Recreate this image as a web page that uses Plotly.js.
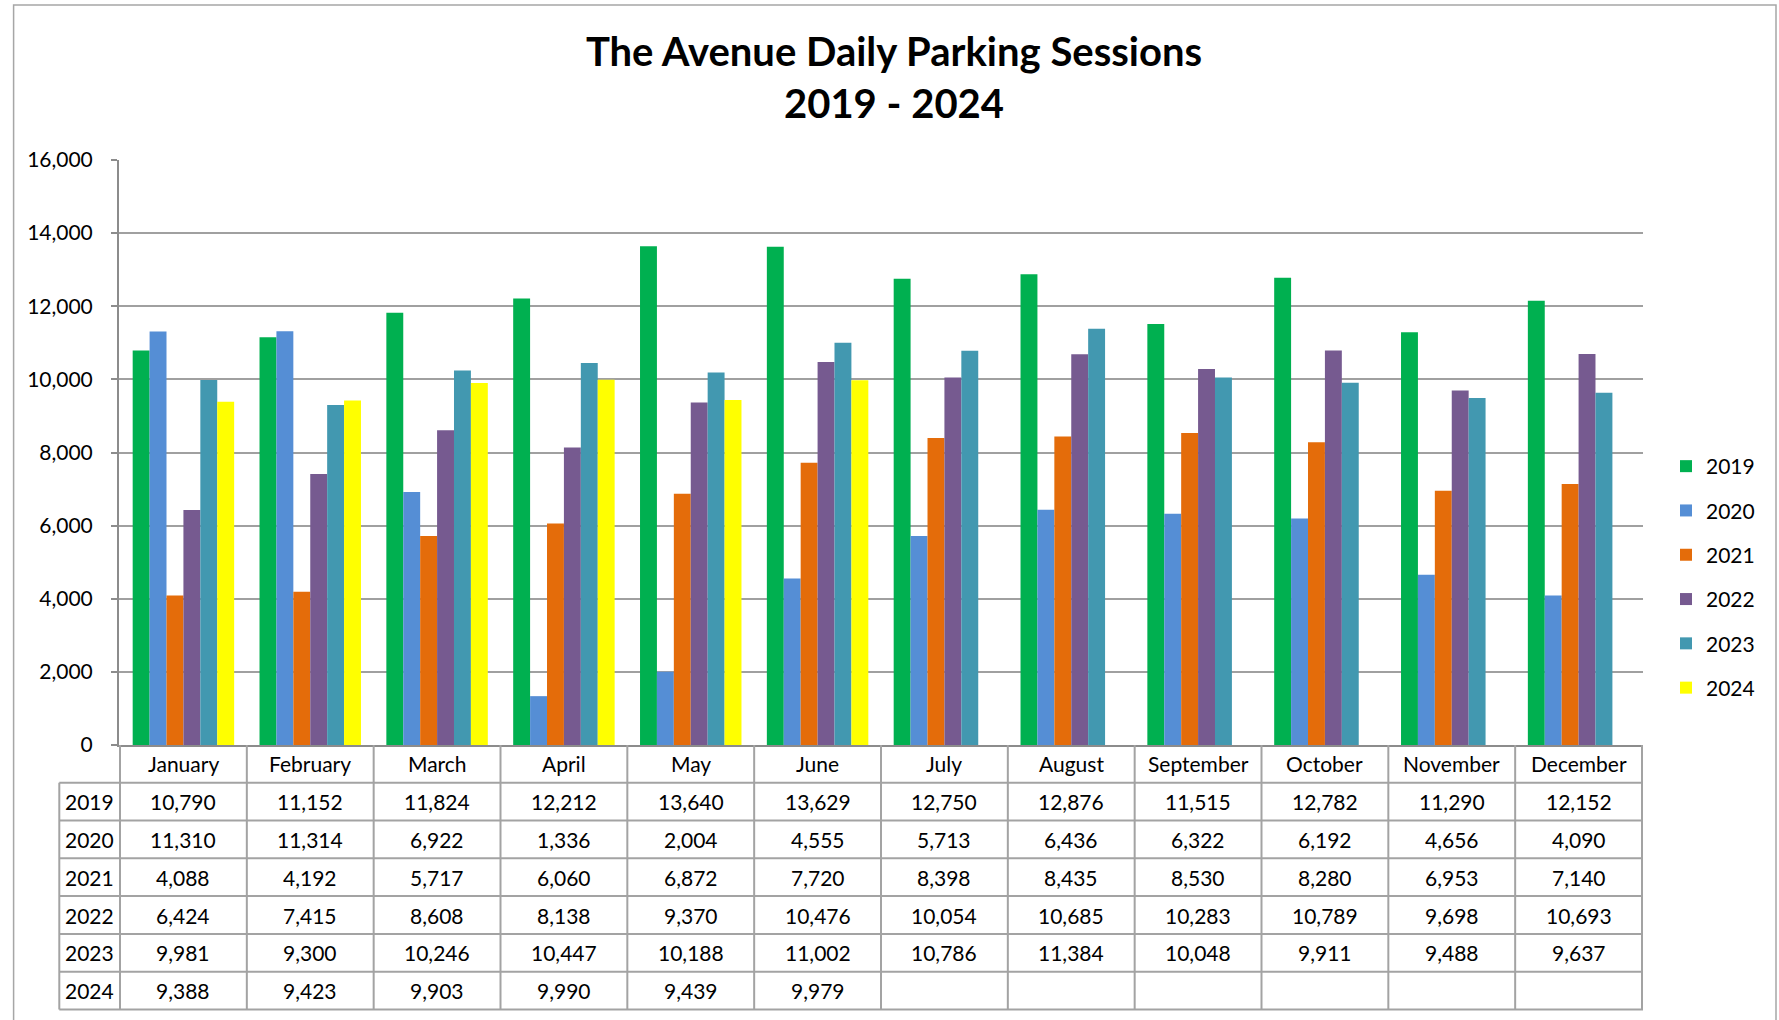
<!DOCTYPE html>
<html>
<head>
<meta charset="utf-8">
<script src="https://cdn.plot.ly/plotly-3.0.1.min.js"></script>
<style>
  html, body { margin: 0; padding: 0; background: #ffffff; }
  #chart { width: 1779px; height: 1020px; }
</style>
</head>
<body>
<div id="chart"></div>
<script>
// ---------------- data ----------------
const months = ["January", "February", "March", "April", "May", "June",
                "July", "August", "September", "October", "November", "December"];
const years = ["2019", "2020", "2021", "2022", "2023", "2024"];
const y2019 = [10790, 11152, 11824, 12212, 13640, 13629, 12750, 12876, 11515, 12782, 11290, 12152];
const y2020 = [11310, 11314, 6922, 1336, 2004, 4555, 5713, 6436, 6322, 6192, 4656, 4090];
const y2021 = [4088, 4192, 5717, 6060, 6872, 7720, 8398, 8435, 8530, 8280, 6953, 7140];
const y2022 = [6424, 7415, 8608, 8138, 9370, 10476, 10054, 10685, 10283, 10789, 9698, 10693];
const y2023 = [9981, 9300, 10246, 10447, 10188, 11002, 10786, 11384, 10048, 9911, 9488, 9637];
const y2024 = [9388, 9423, 9903, 9990, 9439, 9979, null, null, null, null, null, null];
const yTicks = [0, 2000, 4000, 6000, 8000, 10000, 12000, 14000, 16000];

const series = [y2019, y2020, y2021, y2022, y2023, y2024];
const colors = ["#00B050", "#558ED5", "#E46C0A", "#765A90", "#4298B0", "#FFFF00"];

// ---------------- layout geometry (pixels) ----------------
const W = 1779, H = 1020;
const PL = 119, PR = 1643, PT = 160, PB = 745;
const pw = PR - PL, ph = PB - PT;
const xp = px => (px - PL) / pw;          // pixel x -> paper
const yp = py => (PB - py) / ph;          // pixel y -> paper
const headerBottom = 782.7, rowH = 37.8, tableLeft = 59.3;
const gridGray = "#A0A0A0", lineGray = "#8C8C8C", tableGray = "#A3A3A3";
const FONT = "Lato, 'Open Sans', sans-serif";

// ---------------- traces ----------------
const traces = years.map((yr, i) => ({
  type: "bar",
  name: yr,
  x: months,
  y: series[i],
  marker: { color: colors[i], line: { width: 0 } },
  legendgroup: yr,
  hoverinfo: "x+y+name"
}));

// ---------------- table: shapes + annotations ----------------
const shapes = [];
const annotations = [];

// outer chart border
shapes.push({ type: "rect", xref: "paper", yref: "paper",
  x0: xp(13.6), x1: xp(1776), y0: yp(1040), y1: yp(5),
  line: { color: "#A6A6A6", width: 1.5 }, fillcolor: "rgba(0,0,0,0)", layer: "below" });

// horizontal table lines
for (let r = 0; r <= years.length; r++) {
  const y = headerBottom + r * rowH;
  shapes.push({ type: "line", xref: "paper", yref: "paper",
    x0: xp(tableLeft), x1: 1, y0: yp(y), y1: yp(y),
    line: { color: tableGray, width: 2 } });
}
// vertical lines at category boundaries
for (let c = 0; c <= months.length; c++) {
  shapes.push({ type: "line", xref: "x", yref: "paper",
    x0: c - 0.5, x1: c - 0.5, y0: yp(PB), y1: yp(headerBottom + years.length * rowH),
    line: { color: tableGray, width: 2 } });
}
// left edge of the row-label column
shapes.push({ type: "line", xref: "paper", yref: "paper",
  x0: xp(tableLeft), x1: xp(tableLeft), y0: yp(headerBottom), y1: yp(headerBottom + years.length * rowH),
  line: { color: tableGray, width: 2 } });

const cellFont = { family: FONT, size: 21, color: "#000000" };
// month header
months.forEach(m => {
  annotations.push({ xref: "x", yref: "paper", x: m, y: yp((PB + headerBottom) / 2),
    text: m, showarrow: false, font: cellFont, xanchor: "center", yanchor: "middle" });
});
// rows
years.forEach((yr, r) => {
  const yc = yp(headerBottom + r * rowH + rowH / 2);
  annotations.push({ xref: "paper", yref: "paper", x: xp((tableLeft + PL) / 2), y: yc,
    text: yr, showarrow: false, font: cellFont, xanchor: "center", yanchor: "middle" });
  months.forEach((m, c) => {
    const v = series[r][c];
    if (v === null || v === undefined) return;
    annotations.push({ xref: "x", yref: "paper", x: m, y: yc,
      text: v.toLocaleString("en-US"), showarrow: false, font: cellFont,
      xanchor: "center", yanchor: "middle" });
  });
});

// ---------------- layout ----------------
const layout = {
  width: W, height: H,
  paper_bgcolor: "#ffffff", plot_bgcolor: "#ffffff",
  margin: { l: PL, r: W - PR, t: PT, b: H - PB, pad: 0 },
  font: { family: FONT, size: 21, color: "#000000" },
  title: {
    text: "The Avenue Daily Parking Sessions<br>2019 - 2024",
    font: { family: FONT, size: 40, color: "#000000", weight: "bold" },
    x: 894 / W, xref: "container", xanchor: "center",
    y: 1 - 66 / H, yref: "container", yanchor: "top"
  },
  barmode: "group",
  bargap: 0.2,
  bargroupgap: 0,
  xaxis: {
    type: "category",
    showticklabels: false,
    ticks: "",
    showgrid: false,
    showline: true, linecolor: lineGray, linewidth: 2,
    zeroline: false,
    fixedrange: true
  },
  yaxis: {
    range: [0, 16000],
    tickvals: yTicks,
    tickformat: ",d",
    tickfont: { family: FONT, size: 21, color: "#000000" },
    showgrid: true, gridcolor: gridGray, gridwidth: 2,
    showline: true, linecolor: lineGray, linewidth: 2,
    ticks: "outside", ticklen: 6, tickcolor: lineGray, tickwidth: 2,
    ticklabelstandoff: 14,
    zeroline: false,
    fixedrange: true
  },
  showlegend: true,
  legend: {
    x: xp(1666), xanchor: "left",
    y: yp(577), yanchor: "middle",
    font: { family: FONT, size: 21, color: "#000000" },
    tracegroupgap: 14,
    itemclick: false, itemdoubleclick: false,
    bgcolor: "rgba(0,0,0,0)"
  },
  shapes: shapes,
  annotations: annotations
};

Plotly.newPlot("chart", traces, layout, { displayModeBar: false, staticPlot: false });
</script>
</body>
</html>
